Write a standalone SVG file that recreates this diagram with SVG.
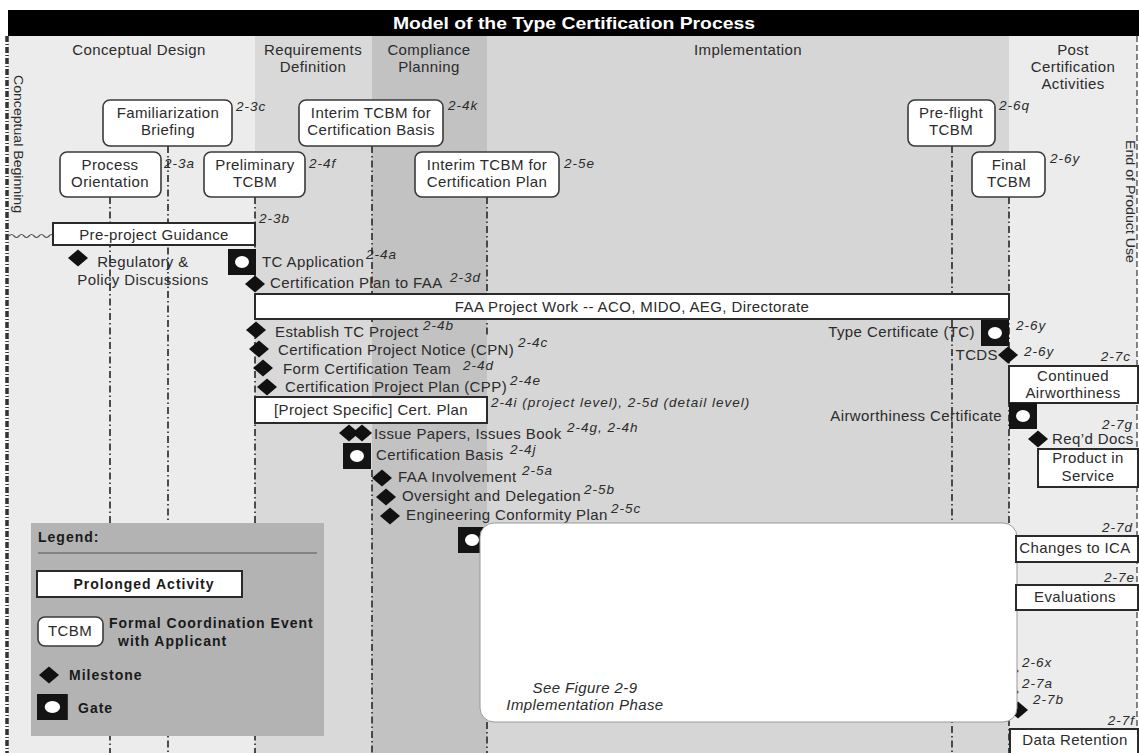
<svg xmlns="http://www.w3.org/2000/svg" xmlns:xlink="http://www.w3.org/1999/xlink" width="1139" height="753" viewBox="0 0 1139 753">
<style>
text{font-family:"Liberation Sans",Arial,sans-serif;font-size:15px;fill:#2b2b2b;letter-spacing:0.4px}
.c{text-anchor:middle}
.e{text-anchor:end}
.i{font-style:italic}
.s{font-style:italic;font-size:13.5px;letter-spacing:1px}
.b{font-weight:bold;font-size:14px;letter-spacing:1px;fill:#1a1a1a}
.tc{fill:#fff;stroke:#3a3a3a;stroke-width:1.6}
.bar{fill:#fff;stroke:#2a2a2a;stroke-width:2}
.dd{fill:none;stroke:#3a3a3a;stroke-width:1.8;stroke-dasharray:7 3 1.5 3}
</style>
<defs>
<path id="ms" d="M-10,0 L0,-8.5 L10,0 L0,8.5Z" fill="#111"/>
<g id="gate"><rect x="0" y="0" width="28" height="26" fill="#141414"/><ellipse cx="14" cy="13" rx="7" ry="6" fill="#fff"/></g>
</defs>
<rect width="1139" height="753" fill="#fff"/>
<g id="columns">
<rect x="8" y="36" width="247" height="717" fill="#ececec"/>
<rect x="255" y="36" width="117" height="717" fill="#d9d9d9"/>
<rect x="372" y="36" width="115" height="717" fill="#c2c2c2"/>
<rect x="487" y="36" width="522" height="717" fill="#d6d6d6"/>
<rect x="1009" y="36" width="128" height="717" fill="#ececec"/>
</g>
<g id="title">
<rect x="8" y="10" width="1131" height="26" fill="#000"/>
<text x="393" y="29" textLength="362" lengthAdjust="spacingAndGlyphs" style="font-weight:bold;font-size:17px;fill:#fff;letter-spacing:0">Model of the Type Certification Process</text>
</g>
<g id="headers">
<text class="c" x="139" y="55">Conceptual Design</text>
<text class="c" x="313" y="55">Requirements</text>
<text class="c" x="313" y="72">Definition</text>
<text class="c" x="429" y="55">Compliance</text>
<text class="c" x="429" y="72">Planning</text>
<text class="c" x="748" y="55">Implementation</text>
<text class="c" x="1073" y="55">Post</text>
<text class="c" x="1073" y="72">Certification</text>
<text class="c" x="1073" y="89">Activities</text>
<text transform="translate(14,75) rotate(90)" textLength="138" lengthAdjust="spacingAndGlyphs" style="font-size:13.5px;letter-spacing:0">Conceptual Beginning</text>
<text transform="translate(1126,140) rotate(90)" textLength="123" lengthAdjust="spacingAndGlyphs" style="font-size:13.5px;letter-spacing:0">End of Product Use</text>
</g>
<g id="connectors">
<line x1="7" y1="36" x2="7" y2="753" stroke="#333" stroke-width="3.5" stroke-dasharray="6 2 1 2"/>
<line x1="1137" y1="36" x2="1137" y2="753" stroke="#444" stroke-width="1.3" stroke-dasharray="6 3"/>
<line class="dd" x1="110" y1="197" x2="110" y2="753"/>
<line class="dd" x1="168" y1="146" x2="168" y2="753"/>
<line class="dd" x1="255" y1="197" x2="255" y2="753"/>
<line class="dd" x1="372" y1="146" x2="372" y2="322"/>
<line class="dd" x1="372" y1="470" x2="372" y2="753"/>
<line class="dd" x1="487" y1="197" x2="487" y2="335"/>
<line class="dd" x1="487" y1="722" x2="487" y2="753"/>
<line class="dd" x1="952" y1="146" x2="952" y2="753"/>
<line class="dd" x1="1009" y1="197" x2="1009" y2="753"/>
<path d="M9,236 q2.5,-3 5,0 t5,0 t5,0 t5,0 t5,0 t5,0 t5,0 t5,0 t4,0" fill="none" stroke="#555" stroke-width="1.2"/>
</g>
<g id="familiarization">
<rect class="tc" x="103" y="100" width="129" height="46" rx="7"/>
<text class="c" x="168" y="118">Familiarization</text>
<text class="c" x="168" y="135">Briefing</text>
<text class="s" x="236" y="111">2-3c</text>
</g>
<g id="process-orientation">
<rect class="tc" x="60" y="152" width="101" height="45" rx="7"/>
<text class="c" x="110" y="170">Process</text>
<text class="c" x="110" y="187">Orientation</text>
<text class="s" x="164" y="168">2-3a</text>
</g>
<g id="preliminary-tcbm">
<rect class="tc" x="204" y="152" width="101" height="45" rx="7"/>
<text class="c" x="255" y="170">Preliminary</text>
<text class="c" x="255" y="187">TCBM</text>
<text class="s" x="309" y="168">2-4f</text>
</g>
<g id="interim-basis">
<rect class="tc" x="299" y="100" width="144" height="46" rx="7"/>
<text class="c" x="371" y="118">Interim TCBM for</text>
<text class="c" x="371" y="135">Certification Basis</text>
<text class="s" x="448" y="110">2-4k</text>
</g>
<g id="interim-plan">
<rect class="tc" x="415" y="152" width="144" height="45" rx="7"/>
<text class="c" x="487" y="170">Interim TCBM for</text>
<text class="c" x="487" y="187">Certification Plan</text>
<text class="s" x="564" y="168">2-5e</text>
</g>
<g id="preflight-tcbm">
<rect class="tc" x="908" y="100" width="87" height="46" rx="7"/>
<text class="c" x="951" y="118">Pre-flight</text>
<text class="c" x="951" y="135">TCBM</text>
<text class="s" x="999" y="110">2-6q</text>
</g>
<g id="final-tcbm">
<rect class="tc" x="972" y="152" width="73" height="45" rx="7"/>
<text class="c" x="1009" y="170">Final</text>
<text class="c" x="1009" y="187">TCBM</text>
<text class="s" x="1050" y="163">2-6y</text>
</g>
<g id="pre-project-guidance">
<rect class="bar" x="53" y="223" width="202" height="22"/>
<text class="c" x="154" y="240">Pre-project Guidance</text>
<text class="s" x="259" y="223">2-3b</text>
</g>
<g id="regulatory">
<use xlink:href="#ms" x="78" y="258"/>
<text class="c" x="143" y="267">Regulatory &amp;</text>
<text class="c" x="143" y="285">Policy Discussions</text>
</g>
<g id="tc-application">
<use xlink:href="#gate" x="228" y="249"/>
<text x="262" y="267">TC Application</text>
<text class="s" x="366" y="259">2-4a</text>
</g>
<g id="cert-plan-to-faa">
<use xlink:href="#ms" x="255" y="284"/>
<text x="270" y="288">Certification Plan to FAA</text>
<text class="s" x="450" y="282">2-3d</text>
</g>
<g id="faa-project-work">
<rect class="bar" x="255" y="294" width="754" height="25"/>
<text class="c" x="632" y="312">FAA Project Work -- ACO, MIDO, AEG, Directorate</text>
</g>
<g id="establish-tc">
<use xlink:href="#ms" x="256" y="330"/>
<text x="275" y="337">Establish TC Project</text>
<text class="s" x="423" y="330">2-4b</text>
</g>
<g id="cpn">
<use xlink:href="#ms" x="259" y="349"/>
<text x="278" y="355">Certification Project Notice (CPN)</text>
<text class="s" x="518" y="347">2-4c</text>
</g>
<g id="form-team">
<use xlink:href="#ms" x="263" y="368"/>
<text x="283" y="374">Form Certification Team</text>
<text class="s" x="463" y="370">2-4d</text>
</g>
<g id="cpp">
<use xlink:href="#ms" x="267" y="387"/>
<text x="285" y="392">Certification Project Plan (CPP)</text>
<text class="s" x="510" y="385">2-4e</text>
</g>
<g id="project-cert-plan">
<rect class="bar" x="255" y="397" width="232" height="26"/>
<text class="c" x="371" y="415">[Project Specific] Cert. Plan</text>
<text class="s" x="491" y="407">2-4i (project level), 2-5d (detail level)</text>
</g>
<g id="issue-papers">
<use xlink:href="#ms" x="349" y="433"/>
<use xlink:href="#ms" x="362" y="433"/>
<text x="374" y="439">Issue Papers, Issues Book</text>
<text class="s" x="567" y="432">2-4g, 2-4h</text>
</g>
<g id="cert-basis">
<use xlink:href="#gate" x="343" y="443"/>
<text x="376" y="460">Certification Basis</text>
<text class="s" x="510" y="454">2-4j</text>
</g>
<g id="faa-involvement">
<use xlink:href="#ms" x="382" y="478"/>
<text x="398" y="482">FAA Involvement</text>
<text class="s" x="522" y="475">2-5a</text>
</g>
<g id="oversight">
<use xlink:href="#ms" x="386" y="497"/>
<text x="402" y="501">Oversight and Delegation</text>
<text class="s" x="584" y="494">2-5b</text>
</g>
<g id="conformity-plan">
<use xlink:href="#ms" x="390" y="516"/>
<text x="406" y="520">Engineering Conformity Plan</text>
<text class="s" x="611" y="513">2-5c</text>
</g>
<g id="impl-gate">
<use xlink:href="#gate" x="458" y="527"/>
</g>
<g id="type-certificate">
<use xlink:href="#gate" x="981" y="320"/>
<text class="e" x="975" y="337">Type Certificate (TC)</text>
<text class="s" x="1016" y="330">2-6y</text>
</g>
<g id="tcds">
<use xlink:href="#ms" x="1008" y="355"/>
<text class="e" x="998" y="360">TCDS</text>
<text class="s" x="1024" y="356">2-6y</text>
</g>
<g id="continued-airworthiness">
<text class="s e" x="1131" y="361">2-7c</text>
<rect class="bar" x="1009" y="366" width="129" height="37"/>
<text class="c" x="1073" y="381">Continued</text>
<text class="c" x="1073" y="398">Airworthiness</text>
</g>
<g id="airworthiness-certificate">
<use xlink:href="#gate" x="1009" y="403"/>
<text class="e" x="1002" y="421">Airworthiness Certificate</text>
</g>
<g id="reqd-docs">
<text class="s e" x="1133" y="429">2-7g</text>
<use xlink:href="#ms" x="1038" y="439"/>
<text x="1052" y="444">Req’d Docs</text>
</g>
<g id="product-in-service">
<rect class="bar" x="1038" y="449" width="100" height="38"/>
<text class="c" x="1088" y="463">Product in</text>
<text class="c" x="1088" y="481">Service</text>
</g>
<g id="bottom-markers">
<circle cx="1017" cy="671" r="1.5" fill="#222"/>
<circle cx="1017" cy="692" r="1.5" fill="#222"/>
<use xlink:href="#ms" x="1018" y="710"/>
<text class="s" x="1022" y="667">2-6x</text>
<text class="s" x="1022" y="688">2-7a</text>
<text class="s" x="1033" y="704">2-7b</text>
</g>
<g id="implementation-phase">
<rect x="480" y="523" width="537" height="199" rx="14" fill="#fff" stroke="#9a9a9a" stroke-width="1"/>
<text class="c i" x="585" y="693">See Figure 2-9</text>
<text class="c i" x="585" y="710">Implementation Phase</text>
</g>
<g id="changes-ica">
<text class="s e" x="1133" y="532">2-7d</text>
<rect class="bar" x="1016" y="536" width="122" height="26"/>
<text class="c" x="1075" y="553">Changes to ICA</text>
</g>
<g id="evaluations">
<text class="s e" x="1135" y="582">2-7e</text>
<rect class="bar" x="1016" y="585" width="122" height="25"/>
<text class="c" x="1075" y="602">Evaluations</text>
</g>
<g id="data-retention">
<text class="s e" x="1135" y="725">2-7f</text>
<rect class="bar" x="1010" y="729" width="128" height="26"/>
<text class="c" x="1075" y="745">Data Retention</text>
</g>
<g id="legend">
<rect x="31" y="523" width="293" height="213" fill="#b3b3b3"/>
<text class="b" x="38" y="542">Legend:</text>
<line x1="38" y1="553" x2="317" y2="553" stroke="#555" stroke-width="1.2"/>
<rect class="bar" x="37" y="571" width="205" height="26"/>
<text class="b c" x="144" y="589">Prolonged Activity</text>
<rect class="tc" x="38" y="617" width="65" height="29" rx="7"/>
<text class="c" x="70" y="636">TCBM</text>
<text class="b" x="109" y="628">Formal Coordination Event</text>
<text class="b" x="118" y="646">with Applicant</text>
<use xlink:href="#ms" x="49" y="675"/>
<text class="b" x="69" y="680">Milestone</text>
<g transform="translate(37,694) scale(1.1,1)"><use xlink:href="#gate"/></g>
<text class="b" x="78" y="713">Gate</text>
</g>
</svg>
